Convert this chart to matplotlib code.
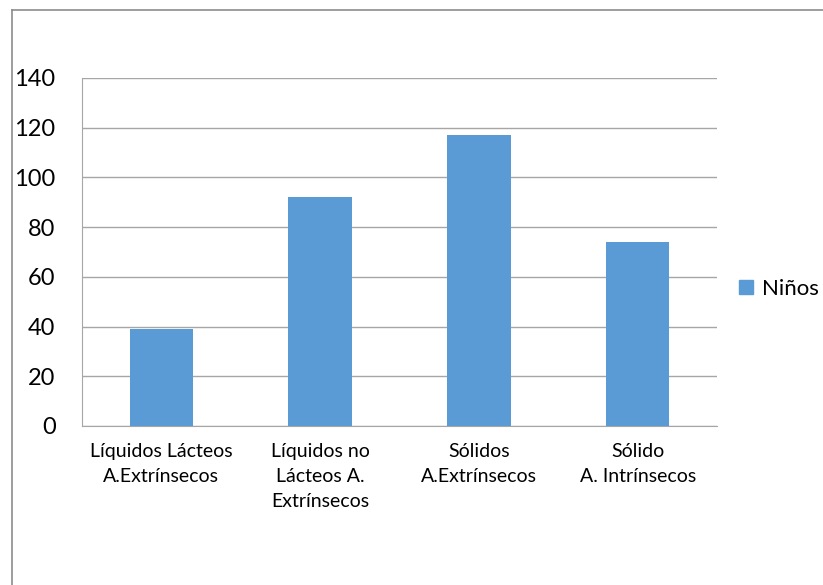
import matplotlib.pyplot as plt
from matplotlib.lines import Line2D
import numpy as np

categorias = ['Líquidos Lácteos\nA.Extrínsecos',
              'Líquidos no\nLácteos A.\nExtrínsecos',
              'Sólidos\nA.Extrínsecos',
              'Sólido\nA. Intrínsecos']
ninos = [39, 92, 117, 74]
yticks = [0, 20, 40, 60, 80, 100, 120, 140]

plt.rcParams['font.family'] = ['Lato', 'DejaVu Sans']

W, H = 823, 585
fig = plt.figure(figsize=(W / 100, H / 100), dpi=100)
ax = fig.add_axes([82 / W, 1 - 426 / H, 635 / W, 348 / H])

x = np.arange(len(categorias))
ax.bar(x, ninos, width=0.4, color='#5B9BD5', label='Niños', zorder=3)

ax.set_xlim(-0.5, len(categorias) - 0.5)
ax.set_ylim(0, 140)
ax.set_yticks(yticks)
ax.set_yticklabels([str(v) for v in yticks], fontsize=17)
ax.set_xticks(x)
ax.set_xticklabels(categorias, fontsize=14, linespacing=1.6)
ax.tick_params(axis='both', length=0, colors='#000000')
ax.tick_params(axis='y', pad=19)
ax.tick_params(axis='x', pad=12)

ax.grid(axis='y', color='#a6a6a6', linewidth=1, zorder=0)
for side in ['top', 'right']:
    ax.spines[side].set_visible(False)
ax.spines['left'].set_color('#a6a6a6')
ax.spines['bottom'].set_color('#a6a6a6')

# legend to the right of the plot
fig.legend(handles=[Line2D([], [], marker='s', linestyle='none', markersize=9.5,
                           color='#5B9BD5', label='Niños')],
           loc='center left', bbox_to_anchor=(735 / W, 1 - 289 / H),
           frameon=False, fontsize=16, handlelength=1.0, handletextpad=0.2,
           borderaxespad=0, borderpad=0)

# chart border (top and left edges)
fig.add_artist(Line2D([11.5 / W, 1], [1 - 9.5 / H, 1 - 9.5 / H], color='#8c8c8c', linewidth=1.2))
fig.add_artist(Line2D([11.5 / W, 11.5 / W], [0, 1 - 9.5 / H], color='#8c8c8c', linewidth=1.2))

fig.savefig('out.png', dpi=100)
